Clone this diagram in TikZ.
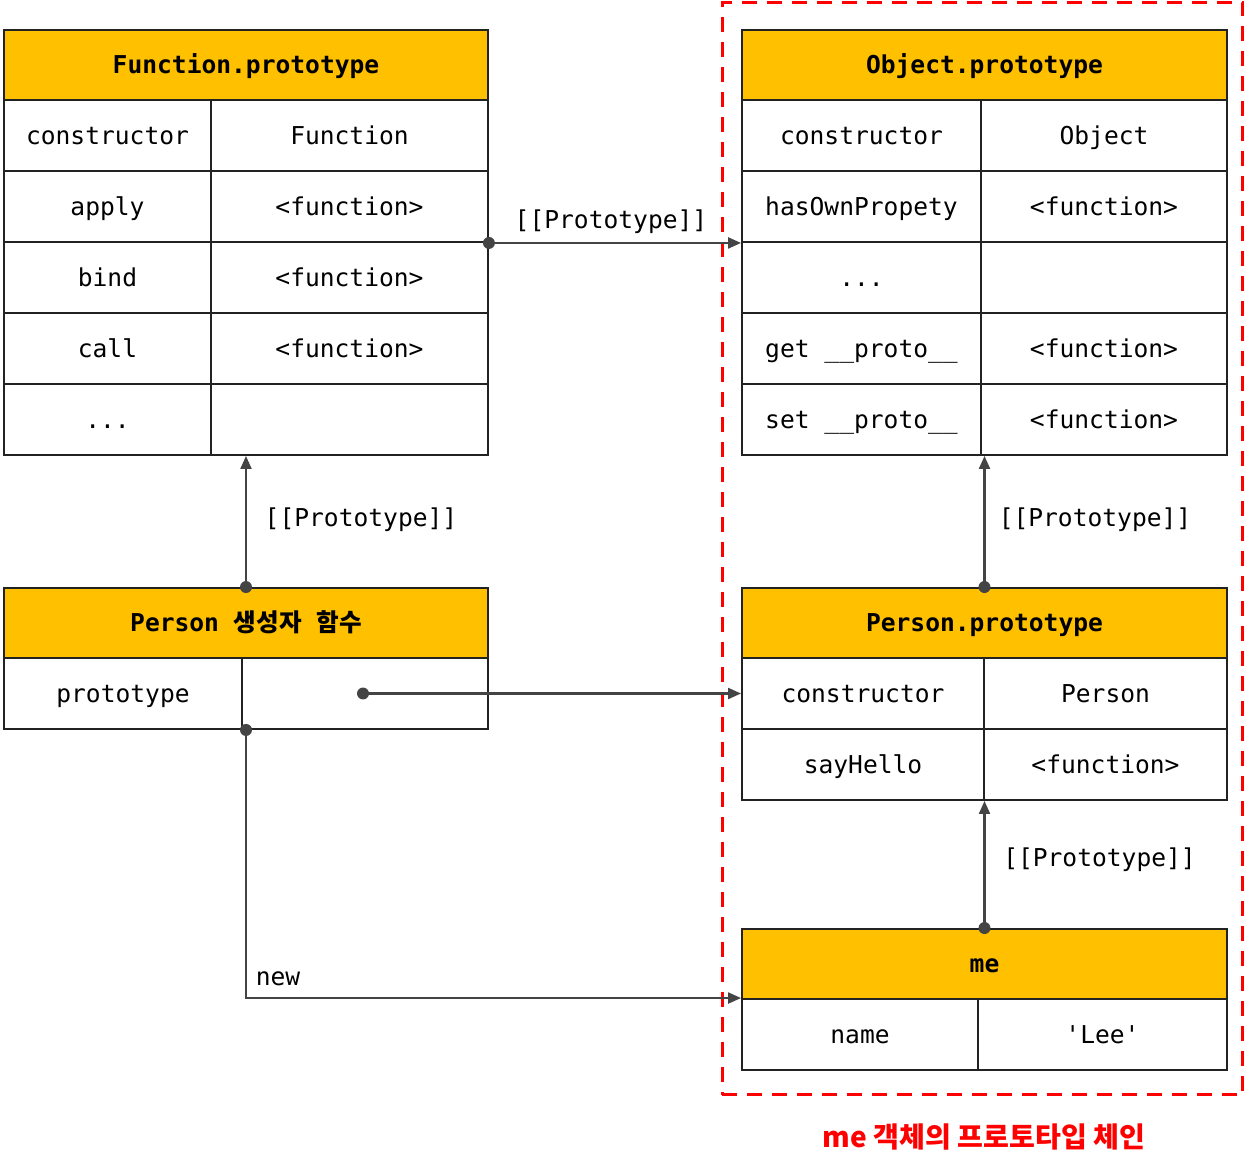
\documentclass[tikz,border=0pt]{standalone}
\usepackage{fontspec}
\setmonofont{DejaVu Sans Mono}
\newfontfamily\krfont{Noto Sans CJK KR}
\usetikzlibrary{arrows.meta}

\begin{document}
\begin{tikzpicture}[x=0.02cm, y=-0.02cm,
  cell/.style={draw=lineDark, line width=1.1pt, fill=white, inner sep=0pt,
    minimum height=1.42cm, text height=11.4pt, text depth=1.6pt,
    font=\fontsize{14}{16}\selectfont\ttfamily},
  headCell/.style={cell, fill=colHead, minimum height=1.40cm,
    font=\fontsize{14}{16}\selectfont\ttfamily\bfseries},
  link/.style={draw=lineGray, line width=1.2pt, -{Triangle[length=0.26cm, width=0.22cm]}},
  linkLabel/.style={font=\fontsize{14}{16}\selectfont\ttfamily, inner sep=0pt,
    text height=11.4pt, text depth=1.6pt},
  dot/.style={fill=lineGray}
]

% Colori
\definecolor{colHead}{HTML}{FFC000}
\definecolor{lineDark}{HTML}{222222}
\definecolor{lineGray}{HTML}{444444}
\definecolor{chainRed}{HTML}{FF0000}

% Raggio dei punti
\def\rd{0.12cm}

\useasboundingbox (0,0) rectangle (1245,1172);

% Catena di me (riquadro tratteggiato)
\node[draw=chainRed, line width=1.7pt, dash pattern=on 0.3cm off 0.2cm,
  minimum width=10.42cm, minimum height=21.86cm, inner sep=0pt] (chainBox) at (982.5,548.5) {};
\node[font=\fontsize{16}{18}\selectfont\krfont\bfseries, text=chainRed] (chainTitle) at (984,1137) {me 객체의 프로토타입 체인};

% Function.prototype
\node[headCell, minimum width=9.68cm] (fpHead) at (246,65) {Function.prototype};
\node[cell, minimum width=4.14cm] (fpConsL) at (107.5,135.5) {constructor};
\node[cell, minimum width=5.54cm] (fpConsR) at (349.5,135.5) {Function};
\node[cell, minimum width=4.14cm] (fpApplyL) at (107.5,206.5) {apply};
\node[cell, minimum width=5.54cm] (fpApplyR) at (349.5,206.5) {<function>};
\node[cell, minimum width=4.14cm] (fpBindL) at (107.5,277.5) {bind};
\node[cell, minimum width=5.54cm] (fpBindR) at (349.5,277.5) {<function>};
\node[cell, minimum width=4.14cm] (fpCallL) at (107.5,348.5) {call};
\node[cell, minimum width=5.54cm] (fpCallR) at (349.5,348.5) {<function>};
\node[cell, minimum width=4.14cm] (fpDotsL) at (107.5,419.5) {...};
\node[cell, minimum width=5.54cm] (fpDotsR) at (349.5,419.5) {};

% Object.prototype
\node[headCell, minimum width=9.70cm] (opHead) at (984.5,65) {Object.prototype};
\node[cell, minimum width=4.78cm] (opConsL) at (861.5,135.5) {constructor};
\node[cell, minimum width=4.92cm] (opConsR) at (1104,135.5) {Object};
\node[cell, minimum width=4.78cm] (opHasL) at (861.5,206.5) {hasOwnPropety};
\node[cell, minimum width=4.92cm] (opHasR) at (1104,206.5) {<function>};
\node[cell, minimum width=4.78cm] (opDotsL) at (861.5,277.5) {...};
\node[cell, minimum width=4.92cm] (opDotsR) at (1104,277.5) {};
\node[cell, minimum width=4.78cm] (opGetL) at (861.5,348.5) {get \_\_proto\_\_};
\node[cell, minimum width=4.92cm] (opGetR) at (1104,348.5) {<function>};
\node[cell, minimum width=4.78cm] (opSetL) at (861.5,419.5) {set \_\_proto\_\_};
\node[cell, minimum width=4.92cm] (opSetR) at (1104,419.5) {<function>};

% Person (funzione costruttore)
\node[headCell, minimum width=9.68cm] (pfHead) at (246,623) {Person {\krfont 생성자} {\krfont 함수}};
\node[cell, minimum width=4.76cm] (pfProtoL) at (123,693.5) {prototype};
\node[cell, minimum width=4.92cm] (pfProtoR) at (365,693.5) {};

% Person.prototype
\node[headCell, minimum width=9.70cm] (ppHead) at (984.5,623) {Person.prototype};
\node[cell, minimum width=4.84cm] (ppConsL) at (863,693.5) {constructor};
\node[cell, minimum width=4.86cm] (ppConsR) at (1105.5,693.5) {Person};
\node[cell, minimum width=4.84cm] (ppSayL) at (863,764.5) {sayHello};
\node[cell, minimum width=4.86cm] (ppSayR) at (1105.5,764.5) {<function>};

% me
\node[headCell, minimum width=9.70cm] (meHead) at (984.5,964) {me};
\node[cell, minimum width=4.72cm] (meNameL) at (860,1034.5) {name};
\node[cell, minimum width=4.98cm] (meNameR) at (1102.5,1034.5) {'Lee'};

% Punti di partenza
\coordinate (fpOut) at (fpApplyR.south east);
\coordinate (pfUp) at (pfHead.north);
\coordinate (ppUp) at (ppHead.north);
\coordinate (meUp) at (meHead.north);
\coordinate (pfLink) at (363,693.5);
\coordinate (pfNew) at (pfHead.center |- pfProtoR.south);

% Collegamenti
\draw[link] (fpOut) -- (opHasL.south west);
\draw[link] (pfUp) -- (pfUp |- fpDotsR.south);
\draw[link] (ppUp) -- (ppUp |- opSetL.south);
\draw[link] (pfLink) -- (ppConsL.west);
\draw[link] (meUp) -- (meUp |- ppSayL.south);
\draw[link] (pfNew) |- (meNameL.north west);

\foreach \p in {fpOut, pfUp, ppUp, meUp, pfLink, pfNew}
  \fill[dot] (\p) circle (\rd);

% Etichette
\node[linkLabel] (lblFp) at (611,220) {[[Prototype]]};
\node[linkLabel] (lblPf) at (361,518) {[[Prototype]]};
\node[linkLabel] (lblPp) at (1095,518) {[[Prototype]]};
\node[linkLabel] (lblMe) at (1099.5,858) {[[Prototype]]};
\node[linkLabel] (lblNew) at (278,977) {new};

\end{tikzpicture}
\end{document}
